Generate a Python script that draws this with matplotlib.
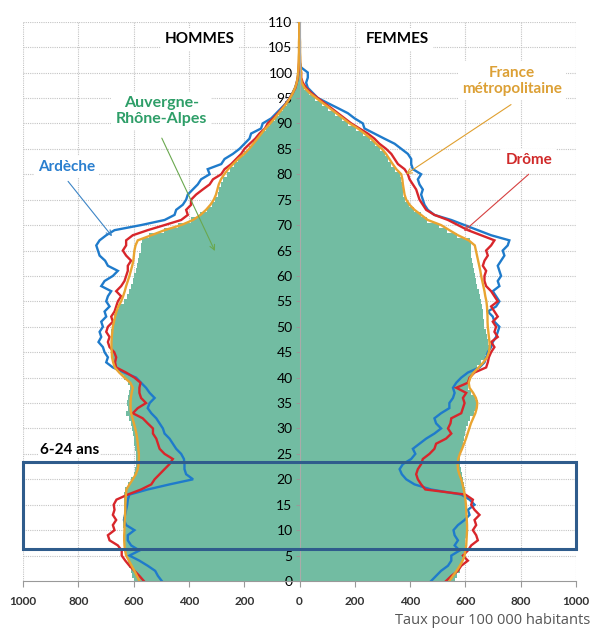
import numpy as np
import matplotlib
matplotlib.use('Agg')
from matplotlib import pyplot as plt
from matplotlib.patches import Rectangle

# Taux pour 100 000 habitants, ages 0 to 110
ages = list(range(111))

hommes_france = [579, 588, 597, 607, 617, 627, 631, 633, 634, 634,
                 633, 633, 632, 631, 630, 630, 629, 628, 626, 615,
                 603, 592, 585, 582, 581, 581, 583, 585, 587, 590,
                 594, 599, 604, 609, 611, 611, 610, 607, 603, 612,
                 633, 652, 668, 674, 678, 679, 680, 680, 679, 677,
                 675, 671, 667, 662, 655, 645, 638, 632, 627, 621,
                 615, 610, 605, 601, 599, 597, 593, 585, 536, 488,
                 428, 385, 358, 338, 322, 310, 302, 297, 292, 284,
                 272, 258, 240, 222, 200, 182, 167, 152, 138, 123,
                 106, 90, 75, 60, 46, 34, 24, 16, 10, 7,
                 5, 4, 3, 3, 2, 2, 2, 1, 1, 1, 1]

hommes_ara = [600, 605, 610, 615, 622, 627, 630, 633, 635, 636,
              636, 637, 637, 636, 635, 634, 634, 633, 630, 620,
              609, 600, 594, 590, 590, 592, 594, 597, 600, 602,
              604, 610, 618, 628, 620, 623, 620, 615, 612, 620,
              635, 650, 665, 672, 676, 678, 680, 681, 682, 681,
              678, 675, 670, 662, 652, 636, 625, 615, 608, 602,
              597, 592, 588, 584, 580, 575, 575, 570, 545, 490,
              440, 392, 360, 335, 318, 305, 296, 290, 284, 276,
              264, 252, 238, 222, 202, 184, 168, 153, 138, 122,
              106, 90, 74, 59, 45, 33, 23, 15, 10, 6,
              4, 3, 2, 2, 1, 1, 1, 1, 0, 0, 0]

hommes_drome = [563, 579, 597, 615, 630, 643, 643, 657, 687, 693,
                669, 675, 663, 675, 669, 672, 662, 621, 573, 536,
                524, 506, 488, 470, 458, 488, 506, 512, 518, 530,
                530, 549, 567, 603, 585, 555, 573, 579, 579, 575,
                597, 627, 663, 667, 663, 670, 687, 693, 687, 699,
                693, 675, 681, 669, 663, 657, 645, 663, 645, 633,
                627, 621, 621, 609, 627, 639, 627, 627, 603, 549,
                488, 428, 404, 410, 392, 392, 374, 350, 325, 313,
                283, 271, 247, 229, 211, 199, 180, 160, 145, 125,
                115, 95, 78, 62, 47, 35, 24, 15, 10, 6,
                4, 3, 2, 1, 1, 1, 0, 0, 0, 0, 0]

hommes_ardeche = [498, 512, 522, 549, 579, 615, 579, 609, 621, 621,
                  597, 627, 635, 631, 627, 623, 621, 615, 549, 470,
                  385, 410, 416, 416, 418, 428, 446, 458, 470, 488,
                  494, 506, 518, 536, 549, 542, 524, 542, 555, 573,
                  591, 633, 675, 699, 693, 705, 711, 727, 717, 723,
                  711, 717, 699, 705, 687, 699, 693, 681, 717, 705,
                  675, 657, 693, 703, 723, 729, 735, 723, 699, 669,
                  573, 488, 452, 446, 422, 410, 404, 386, 368, 356,
                  325, 332, 283, 271, 241, 217, 199, 181, 175, 139,
                  133, 102, 84, 66, 48, 36, 25, 16, 10, 6,
                  4, 2, 1, 1, 0, 0, 0, 0, 0, 0, 0]

femmes_france = [542, 555, 568, 580, 590, 597, 600, 603, 604, 605,
                 606, 606, 605, 604, 603, 602, 600, 597, 594, 590,
                 585, 578, 573, 572, 574, 580, 588, 595, 602, 608,
                 614, 620, 628, 636, 641, 643, 638, 628, 615, 612,
                 618, 630, 648, 665, 678, 685, 688, 687, 685, 683,
                 681, 680, 680, 679, 678, 676, 672, 669, 665, 661,
                 657, 654, 650, 646, 642, 638, 634, 612, 573, 542,
                 512, 464, 440, 416, 398, 386, 380, 377, 374, 372,
                 368, 350, 337, 325, 313, 298, 277, 259, 235, 211,
                 181, 157, 133, 109, 84, 60, 36, 18, 8, 5,
                 6, 4, 3, 3, 2, 2, 2, 1, 1, 1, 1]

femmes_ara = [561, 570, 579, 585, 590, 593, 596, 598, 600, 601,
              601, 602, 603, 603, 604, 603, 602, 600, 597, 594,
              591, 588, 585, 582, 580, 582, 586, 590, 594, 598,
              603, 610, 618, 630, 640, 645, 635, 622, 609, 612,
              622, 632, 642, 658, 672, 681, 684, 682, 678, 674,
              669, 667, 665, 663, 660, 657, 652, 648, 643, 638,
              633, 630, 627, 624, 622, 621, 619, 615, 570, 535,
              505, 462, 438, 414, 396, 383, 376, 373, 370, 366,
              362, 345, 332, 320, 308, 292, 272, 254, 230, 206,
              177, 152, 128, 104, 80, 56, 34, 18, 10, 6,
              4, 3, 2, 2, 1, 1, 1, 1, 0, 0, 0]

femmes_drome = [530, 549, 573, 585, 609, 591, 609, 621, 645, 639,
                627, 639, 633, 651, 633, 621, 627, 600, 455, 440,
                428, 422, 428, 440, 446, 470, 488, 494, 530, 549,
                537, 546, 549, 585, 591, 597, 591, 603, 567, 609,
                615, 633, 675, 681, 685, 693, 705, 693, 717, 705,
                711, 699, 717, 705, 693, 717, 705, 693, 675, 669,
                669, 675, 663, 669, 681, 675, 693, 705, 657, 609,
                573, 537, 488, 458, 446, 434, 428, 422, 410, 398,
                392, 380, 356, 344, 332, 313, 289, 271, 247, 217,
                187, 163, 139, 115, 90, 66, 42, 24, 12, 6,
                6, 3, 2, 1, 1, 1, 0, 0, 0, 0, 0]

femmes_ardeche = [476, 494, 512, 537, 549, 549, 579, 561, 573, 561,
                  557, 573, 597, 615, 609, 633, 615, 585, 476, 416,
                  386, 370, 362, 374, 404, 419, 410, 434, 458, 488,
                  512, 494, 488, 512, 542, 542, 555, 561, 555, 567,
                  585, 609, 651, 669, 675, 681, 693, 699, 711, 717,
                  723, 705, 699, 681, 711, 723, 711, 699, 723, 717,
                  729, 723, 717, 729, 741, 735, 753, 759, 693, 645,
                  597, 549, 488, 464, 452, 446, 440, 446, 434, 428,
                  440, 410, 404, 404, 392, 368, 344, 307, 271, 235,
                  229, 199, 175, 139, 102, 66, 48, 30, 24, 30,
                  30, 6, 1, 0, 0, 0, 0, 0, 0, 0, 0]

c_green = '#72bca2'
c_blue = '#1f7bcb'
c_red = '#d8262b'
c_orange = '#e9a431'
c_box = '#2f5c8c'

plt.rcParams['font.family'] = ['Lato', 'DejaVu Sans']

fig = plt.figure(figsize=(5.92, 6.28), dpi=100)
ax = fig.add_axes([23 / 592, 47 / 628, 553 / 592, 559.3 / 628])

# dotted grid under everything
xg = [v for v in range(-1000, 1001, 200) if v != 0]
ax.vlines(xg, 0, 110, colors='#c4c4c4', linestyles=(0, (1, 1)), lw=0.8, zorder=0.5)
ax.hlines(range(5, 111, 5), -1000, 1000, colors='#c4c4c4', linestyles=(0, (1, 1)),
          lw=0.8, zorder=0.5)

ax.barh(ages, [-v for v in hommes_ara], height=1.0, color=c_green, lw=0, zorder=1)
ax.barh(ages, femmes_ara, height=1.0, color=c_green, lw=0, zorder=1)

for h, f, c in [(hommes_ardeche, femmes_ardeche, c_blue),
                (hommes_drome, femmes_drome, c_red),
                (hommes_france, femmes_france, c_orange)]:
    ax.plot([-v for v in h], ages, color=c, lw=1.7, zorder=2, solid_joinstyle='miter')
    ax.plot(f, ages, color=c, lw=1.7, zorder=2, solid_joinstyle='miter')

ax.set_xlim(-1000, 1000)
ax.set_ylim(0, 110)

xt = np.arange(-1000, 1001, 200)
ax.set_xticks(xt)
ax.set_xticklabels([str(abs(v)) for v in xt], fontsize=8.5, fontweight='bold', color='#333333')
ax.set_yticks(range(0, 111, 5))
ax.set_yticklabels([str(v) for v in range(0, 111, 5)], fontsize=8, color='#333333')
ax.tick_params(axis='x', length=4, color='#999999', pad=7)
ax.tick_params(axis='y', length=3, color='#999999', pad=2)

ax.spines['left'].set_position(('data', 0))
ax.spines['left'].set_color('#aaaaaa')
ax.spines['bottom'].set_color('#999999')
ax.spines['right'].set_visible(False)
ax.spines['top'].set_visible(False)

white = dict(facecolor='white', edgecolor='none', pad=3)

ax.text(-360, 106.5, 'HOMMES', ha='center', va='center', fontsize=11,
        fontweight='bold', color='black', bbox=white, zorder=4)
ax.text(353, 106.5, 'FEMMES', ha='center', va='center', fontsize=11,
        fontweight='bold', color='black', bbox=white, zorder=4)
ax.text(-500, 92.5, 'Auvergne-\nRhône-Alpes', ha='center', va='center', fontsize=11.5,
        fontweight='bold', color='#2e9e68', bbox=white, zorder=4, linespacing=1.15)
ax.text(-843, 81.4, 'Ardèche', ha='center', va='center', fontsize=11,
        fontweight='bold', color='#2a7fcf', bbox=white, zorder=4)
ax.text(769, 98.4, 'France\nmétropolitaine', ha='center', va='center', fontsize=11,
        fontweight='bold', color='#dca035', bbox=white, zorder=4, linespacing=1.2)
ax.text(830, 82.8, 'Drôme', ha='center', va='center', fontsize=11,
        fontweight='bold', color='#d02a2a', bbox=white, zorder=4)
ax.text(-940, 25.8, '6-24 ans', ha='left', va='center', fontsize=11,
        fontweight='bold', color='black', bbox=dict(facecolor='white', edgecolor='none', pad=1),
        zorder=4)

arrows = [((-837, 78.6), (-678, 67.8), '#3d85c6'),
          ((-498, 87.1), (-306, 64.9), '#6aa84f'),
          ((765, 93.7), (385, 80), '#e0a030'),
          ((829, 80), (595, 68.8), '#d64040')]
for start, end, c in arrows:
    ax.annotate('', xy=end, xytext=start,
                arrowprops=dict(arrowstyle='->', color=c, lw=0.8, mutation_scale=9,
                                shrinkA=0, shrinkB=0), zorder=4)

ax.add_patch(Rectangle((-1000, 6.3), 2000, 17.2, fill=False, edgecolor=c_box,
                       lw=2.2, zorder=5, clip_on=False))

fig.text(590 / 592, 1 - 620 / 628, 'Taux pour 100 000 habitants', ha='right', va='center',
         fontsize=10.5, color='#555555', family='Open Sans')

plt.savefig('out.png', dpi=100)
